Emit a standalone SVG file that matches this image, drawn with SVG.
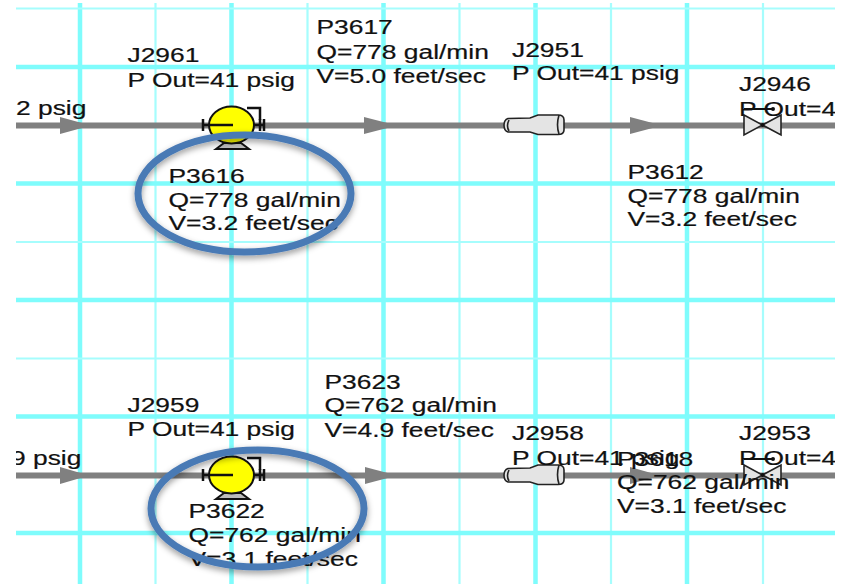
<svg xmlns="http://www.w3.org/2000/svg" xmlns:xlink="http://www.w3.org/1999/xlink" width="846" height="584" viewBox="0 0 846 584">
<style>
.thick{stroke:#7ffcfc;stroke-width:4.5;fill:none}
.thin{stroke:#a6fdfd;stroke-width:2.2;fill:none}
.pipe{stroke:#808080;stroke-width:6;fill:none}
.head{fill:#808080}
.sym{stroke:#222;stroke-width:1.6;fill:#e4e4e4}
.blk{stroke:#111;stroke-width:2.5;fill:none}
.ring{fill:none;stroke:#4a7ab5;stroke-width:7;filter:url(#sh)}
text{font-family:"Liberation Sans",Arial,sans-serif;font-size:20px;fill:#111;stroke:#111;stroke-width:0.2}
</style>
<defs>
<clipPath id="c"><rect x="16" y="0" width="819" height="584"/></clipPath>
<filter id="sh" x="-15%" y="-15%" width="130%" height="140%"><feDropShadow dx="0" dy="3" stdDeviation="3" flood-color="#000" flood-opacity="0.4"/></filter>
<g id="pump">
<path class="blk" d="M247 108H260V120"/>
<path d="M216 149L224 143H241L249 149Z" fill="#bbb" stroke="#111" stroke-width="2"/>
<ellipse cx="231.500" cy="125" rx="22.500" ry="18.500" fill="#ffff00" stroke="#111" stroke-width="2"/>
<path class="blk" d="M203 125H233M203 119V131M260 119V131M264 119V131M254 125H264"/>
</g>
<g id="reducer">
<path class="sym" d="M508 118.500L530 118L538 115H558Q564 115 564 120V130Q564 134.500 558 134.500H538L530 132H508Q504 131 504 125Q504 120 508 118.500Z"/>
<path class="sym" style="fill:none" d="M559 115Q556 125 559 134M509 120Q506 126 509 131"/>
</g>
<g id="valve">
<path class="sym" d="M744 115L781 135V115L744 135Z"/>
<path d="M744 109H772" stroke="#111" stroke-width="2" fill="none"/>
<circle cx="773" cy="109" r="2" fill="#111"/>
<circle cx="762.500" cy="125" r="2" fill="#111"/>
</g>
</defs>
<g clip-path="url(#c)">
<g id="grid">
<path class="thick" d="M80 3V584M231.500 3V584M383.500 3V584M535.500 3V584M687 3V584"/>
<path class="thin" d="M155.500 3V584M307.500 3V584M459.500 3V584M611 3V584M763 3V584"/>
<path class="thick" d="M16 67H835M16 183.500H835M16 300H835M16 416.500H835M16 533H835"/>
<path class="thin" d="M16 8.500H835M16 242H835M16 358.500H835"/>
</g>
<g id="connectors">
<path class="pipe" d="M16 125.500H835M16 475.500H835"/>
<g class="head">
<path d="M60 117L91 125.500L60 134Z"/><path d="M364 117L397 125.500L364 134Z"/><path d="M630 117L662 125.500L630 134Z"/>
<path d="M60 467L89 475.500L60 484Z"/><path d="M365 467L397 475.500L365 484Z"/><path d="M630 467L660 475.500L630 484Z"/>
</g>
</g>
<g id="P3616-pump"><use xlink:href="#pump" href="#pump"/></g>
<g id="P3622-pump"><use xlink:href="#pump" href="#pump" y="350"/></g>
<g id="J2951-reducer"><use xlink:href="#reducer" href="#reducer"/></g>
<g id="J2958-reducer"><use xlink:href="#reducer" href="#reducer" y="350"/></g>
<g id="J2946-valve"><use xlink:href="#valve" href="#valve"/></g>
<g id="J2953-valve"><use xlink:href="#valve" href="#valve" y="350"/></g>
<g id="labels">
<text transform="translate(127.500 62) scale(1.32 1)">J2961</text>
<text transform="translate(127.500 87) scale(1.32 1)">P Out=41 psig</text>
<text transform="translate(316.500 34) scale(1.32 1)">P3617</text>
<text transform="translate(316.500 59) scale(1.32 1)">Q=778 gal/min</text>
<text transform="translate(316.500 83) scale(1.32 1)">V=5.0 feet/sec</text>
<text transform="translate(512 57) scale(1.32 1)">J2951</text>
<text transform="translate(512 80) scale(1.32 1)">P Out=41 psig</text>
<text transform="translate(739 91) scale(1.32 1)">J2946</text>
<text transform="translate(739 116) scale(1.32 1)">P Out=4</text>
<text transform="translate(16 115) scale(1.32 1)">2 psig</text>
<text transform="translate(168.500 183) scale(1.32 1)">P3616</text>
<text transform="translate(168.500 207) scale(1.32 1)">Q=778 gal/min</text>
<text transform="translate(168.500 230) scale(1.32 1)">V=3.2 feet/sec</text>
<text transform="translate(627.500 179) scale(1.32 1)">P3612</text>
<text transform="translate(627.500 203) scale(1.32 1)">Q=778 gal/min</text>
<text transform="translate(627.500 226) scale(1.32 1)">V=3.2 feet/sec</text>
<text transform="translate(127.500 412) scale(1.32 1)">J2959</text>
<text transform="translate(127.500 436) scale(1.32 1)">P Out=41 psig</text>
<text transform="translate(324.500 389) scale(1.32 1)">P3623</text>
<text transform="translate(324.500 412) scale(1.32 1)">Q=762 gal/min</text>
<text transform="translate(324.500 437) scale(1.32 1)">V=4.9 feet/sec</text>
<text transform="translate(512 440) scale(1.32 1)">J2958</text>
<text transform="translate(512 465) scale(1.32 1)">P Out=41 psig</text>
<text transform="translate(739 440) scale(1.32 1)">J2953</text>
<text transform="translate(739 465) scale(1.32 1)">P Out=4</text>
<text transform="translate(11 465) scale(1.32 1)">9 psig</text>
<text transform="translate(617 466) scale(1.32 1)">P3618</text>
<text transform="translate(617 489) scale(1.32 1)">Q=762 gal/min</text>
<text transform="translate(617 513) scale(1.32 1)">V=3.1 feet/sec</text>
<text transform="translate(188.500 518) scale(1.32 1)">P3622</text>
<text transform="translate(188.500 542) scale(1.32 1)">Q=762 gal/min</text>
<text transform="translate(188.500 566) scale(1.32 1)">V=3.1 feet/sec</text>
</g>
</g>
<g id="highlights">
<ellipse id="ring-top" class="ring" cx="244.500" cy="193.500" rx="106.500" ry="58.500"/>
<ellipse id="ring-bottom" class="ring" cx="257.500" cy="508.500" rx="106.500" ry="58.500"/>
</g>
</svg>
